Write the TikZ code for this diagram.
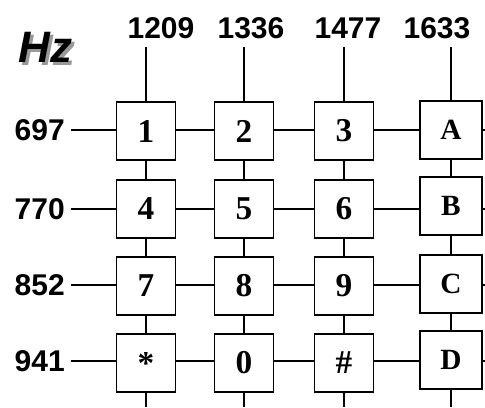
\documentclass[tikz,border=0pt]{standalone}
\usepackage{fontspec}
\setmainfont{Liberation Serif}
\newfontfamily\arialf{Liberation Sans}
\begin{document}
\begin{tikzpicture}[x=0.75pt,y=-0.75pt,
  key/.style={draw,line width=1.1pt,minimum width=44.25pt,minimum height=43.5pt,inner sep=0pt,font=\bfseries\fontsize{25}{25}\selectfont},
  keyl/.style={key,minimum width=46.5pt,font=\bfseries\fontsize{22}{22}\selectfont},
  lbl/.style={font=\arialf\bfseries\fontsize{22.5}{22.5}\selectfont,inner sep=0pt},
  hz/.style={font=\arialf\bfseries\itshape\fontsize{33}{33}\selectfont,inner sep=0pt,anchor=base west},
  wire/.style={line width=0.9pt}]
\useasboundingbox (0,0) rectangle (485,407);
% Hz
\node[hz,text=gray!80] (hzs) at (21,65) {Hz};
\node[hz] (hz) at (18,62) {Hz};
% column labels
\node[lbl,anchor=base] (c1) at (161,38) {1209};
\node[lbl,anchor=base] (c2) at (251,38) {1336};
\node[lbl,anchor=base] (c3) at (348,38) {1477};
\node[lbl,anchor=base] (c4) at (437,38) {1633};
% row labels
\node[lbl,anchor=east] (r1) at (65,130) {697};
\node[lbl,anchor=east] (r2) at (65,209) {770};
\node[lbl,anchor=east] (r3) at (65,285) {852};
\node[lbl,anchor=east] (r4) at (65,361) {941};
% keys
\node[key] (k1) at (146,131) {1};
\node[key] (k2) at (244,131) {2};
\node[key] (k3) at (344,131) {3};
\node[keyl] (kA) at (451,130) {A};
\node[key] (k4) at (146,209) {4};
\node[key] (k5) at (244,209) {5};
\node[key] (k6) at (344,209) {6};
\node[keyl] (kB) at (451,206) {B};
\node[key] (k7) at (146,286) {7};
\node[key] (k8) at (244,286) {8};
\node[key] (k9) at (344,286) {9};
\node[keyl] (kC) at (451,284) {C};
\node[key] (ks) at (146,363) {*};
\node[key] (k0) at (244,363) {0};
\node[key] (kh) at (344,363) {\#};
\node[keyl] (kD) at (451,360) {D};
% free ends
\coordinate (t1) at (146,47);
\coordinate (t2) at (244,47);
\coordinate (t3) at (344,47);
\coordinate (t4) at (451,47);
\coordinate (b1) at (146,407);
\coordinate (b2) at (244,407);
\coordinate (b3) at (344,407);
\coordinate (b4) at (451,407);
\coordinate (e1) at (485,130);
\coordinate (e2) at (485,209);
\coordinate (e3) at (485,285);
\coordinate (e4) at (485,361);
% vertical wires
\draw[wire] (t1) -- (k1.north) (k1.south) -- (k4.north) (k4.south) -- (k7.north) (k7.south) -- (ks.north) (ks.south) -- (b1);
\draw[wire] (t2) -- (k2.north) (k2.south) -- (k5.north) (k5.south) -- (k8.north) (k8.south) -- (k0.north) (k0.south) -- (b2);
\draw[wire] (t3) -- (k3.north) (k3.south) -- (k6.north) (k6.south) -- (k9.north) (k9.south) -- (kh.north) (kh.south) -- (b3);
\draw[wire] (t4) -- (kA.north) (kA.south) -- (kB.north) (kB.south) -- (kC.north) (kC.south) -- (kD.north) (kD.south) -- (b4);
% horizontal wires
\draw[wire] ([xshift=4.5pt]r1.east) -- (k1.west |- r1.east) (k1.east |- r1.east) -- (k2.west |- r1.east) (k2.east |- r1.east) -- (k3.west |- r1.east) (k3.east |- r1.east) -- (kA.west |- r1.east) (kA.east |- r1.east) -- (e1);
\draw[wire] ([xshift=4.5pt]r2.east) -- (k4.west |- r2.east) (k4.east |- r2.east) -- (k5.west |- r2.east) (k5.east |- r2.east) -- (k6.west |- r2.east) (k6.east |- r2.east) -- (kB.west |- r2.east) (kB.east |- r2.east) -- (e2);
\draw[wire] ([xshift=4.5pt]r3.east) -- (k7.west |- r3.east) (k7.east |- r3.east) -- (k8.west |- r3.east) (k8.east |- r3.east) -- (k9.west |- r3.east) (k9.east |- r3.east) -- (kC.west |- r3.east) (kC.east |- r3.east) -- (e3);
\draw[wire] ([xshift=4.5pt]r4.east) -- (ks.west |- r4.east) (ks.east |- r4.east) -- (k0.west |- r4.east) (k0.east |- r4.east) -- (kh.west |- r4.east) (kh.east |- r4.east) -- (kD.west |- r4.east) (kD.east |- r4.east) -- (e4);
\end{tikzpicture}
\end{document}
